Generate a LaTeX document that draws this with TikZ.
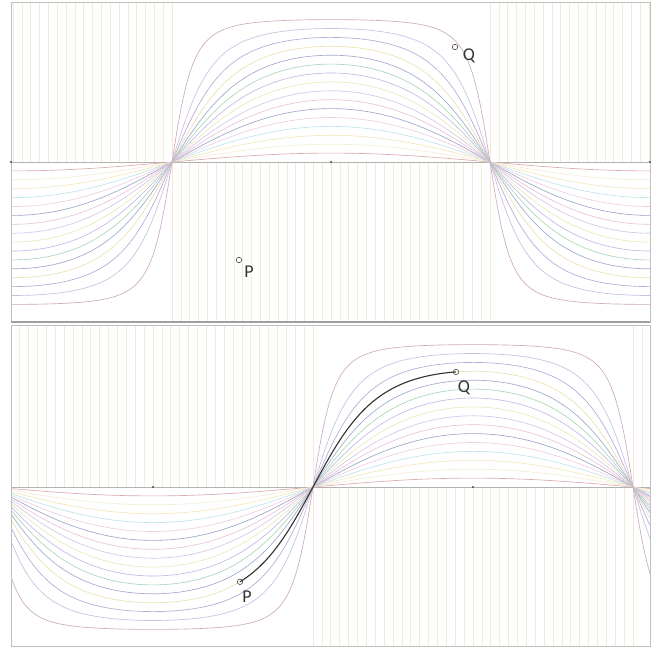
\documentclass[tikz,border=0pt]{standalone}
\usepackage{fontspec}
\setmainfont{Carlito}
\definecolor{vA}{RGB}{246,230,212}
\definecolor{vB}{RGB}{243,238,216}
\definecolor{col16}{RGB}{190,140,170}
\definecolor{col15}{RGB}{180,170,215}
\definecolor{col14}{RGB}{160,140,205}
\definecolor{col13}{RGB}{230,215,150}
\definecolor{col12}{RGB}{130,140,190}
\definecolor{col11}{RGB}{140,200,160}
\definecolor{col10}{RGB}{175,160,225}
\definecolor{col9}{RGB}{230,225,160}
\definecolor{col8}{RGB}{195,180,225}
\definecolor{col7}{RGB}{225,175,200}
\definecolor{col6}{RGB}{125,135,185}
\definecolor{col5}{RGB}{232,190,210}
\definecolor{col4}{RGB}{165,220,230}
\definecolor{col3}{RGB}{240,225,160}
\definecolor{col2}{RGB}{240,230,200}
\definecolor{col1}{RGB}{210,140,140}
\tikzset{
  vline/.style={line width=0.6pt},
  famcurve/.style={line width=0.65pt},
  axisline/.style={draw=gray!60,line width=0.6pt},
  frameline/.style={draw=gray!50,line width=0.7pt},
  axdot/.style={circle,fill=black!70,inner sep=0pt,minimum size=2.4pt},
  ptmark/.style={circle,draw=black!70,line width=0.6pt,inner sep=0pt,minimum size=5.5pt},
  ptlabel/.style={font=\fontsize{18}{20}\selectfont,text=black!80,inner sep=0pt},
}
\begin{document}
\begin{tikzpicture}[x=1pt,y=-1pt]
\useasboundingbox (0,0) rectangle (655,648);
\fill[white] (0,0) rectangle (655,648);
\pgfmathsetmacro\rb{13*0.06096}
\pgfmathsetmacro\ya{487-146*\rb*sin(-41.06)/sqrt(1-\rb*\rb*cos(-41.06)*cos(-41.06))}
\pgfmathsetmacro\yb{487-146*\rb*sin(80.4)/sqrt(1-\rb*\rb*cos(80.4)*cos(80.4))}
% ---------- top panel ----------
\begin{scope}
\clip (11,2) rectangle (650,322);
\foreach \j in {-18,...,54}{
  \pgfmathsetmacro\xx{172+\j*8.83333}
  \pgfmathtruncatemacro\pp{mod(\j+100,2)}
  \ifnum\pp=0 \def\vc{vA}\else\def\vc{vB}\fi
  \ifnum\j<1 \draw[vline,draw=\vc] (\xx,2) -- (\xx,162); \fi
  \ifnum\j>35 \draw[vline,draw=\vc] (\xx,2) -- (\xx,162); \fi
  \ifnum\j>-1 \ifnum\j<37 \draw[vline,draw=\vc] (\xx,162) -- (\xx,322); \fi\fi
}
\draw[axisline] (11,162) -- (650,162);
\foreach \k in {1,...,16}{
  \pgfmathsetmacro\r{\k*0.06096}
  \draw[famcurve,draw=col\k!75] plot[domain=-92:271,samples=400]
    ({172+\x*1.766667},{162-146*\r*sin(\x)/sqrt(1-\r*\r*cos(\x)*cos(\x))});
}
\end{scope}
\draw[frameline] (11,2) rectangle (650,322);
\draw[draw=gray!75,line width=1.4pt] (11,322) -- (650,322);
\node[axdot] (t1) at (11,162) {};
\node[axdot] (t2) at (331,162) {};
\node[axdot] (t3) at (650,162) {};
\node[ptmark] (P1) at (239,260) {};
\node[ptlabel] (P1l) at (249,272) {P};
\node[ptmark] (Q1) at (455,47) {};
\node[ptlabel] (Q1l) at (469,56) {Q};
% ---------- bottom panel ----------
\begin{scope}
\clip (11,325) rectangle (650,646);
\foreach \j in {-34,...,38}{
  \pgfmathsetmacro\xx{313+\j*8.88889}
  \pgfmathtruncatemacro\pp{mod(\j+100,2)}
  \ifnum\pp=0 \def\vc{vA}\else\def\vc{vB}\fi
  \ifnum\j<1 \draw[vline,draw=\vc] (\xx,325) -- (\xx,487); \fi
  \ifnum\j>35 \draw[vline,draw=\vc] (\xx,325) -- (\xx,487); \fi
  \ifnum\j>-1 \ifnum\j<37 \draw[vline,draw=\vc] (\xx,487) -- (\xx,646); \fi\fi
}
\draw[axisline] (11,487) -- (650,487);
\foreach \k in {1,...,16}{
  \pgfmathsetmacro\r{\k*0.06096}
  \draw[famcurve,draw=col\k!75] plot[domain=-171:191,samples=400]
    ({313+\x*1.777778},{487-146*\r*sin(\x)/sqrt(1-\r*\r*cos(\x)*cos(\x))});
}
\draw[line width=1.1pt,black!80] plot[domain=-41.06:80.4,samples=200]
    ({313+\x*1.777778},{487-146*\rb*sin(\x)/sqrt(1-\rb*\rb*cos(\x)*cos(\x))});
\end{scope}
\draw[frameline] (11,325) rectangle (650,646);
\node[axdot] (b1) at (153,487) {};
\node[axdot] (b2) at (473,487) {};
\node[ptmark] (P2) at (240,\ya) {};
\node[ptlabel] (P2l) at (247,597) {P};
\node[ptmark] (Q2) at (456,\yb) {};
\node[ptlabel] (Q2l) at (464,388) {Q};
\end{tikzpicture}
\end{document}
